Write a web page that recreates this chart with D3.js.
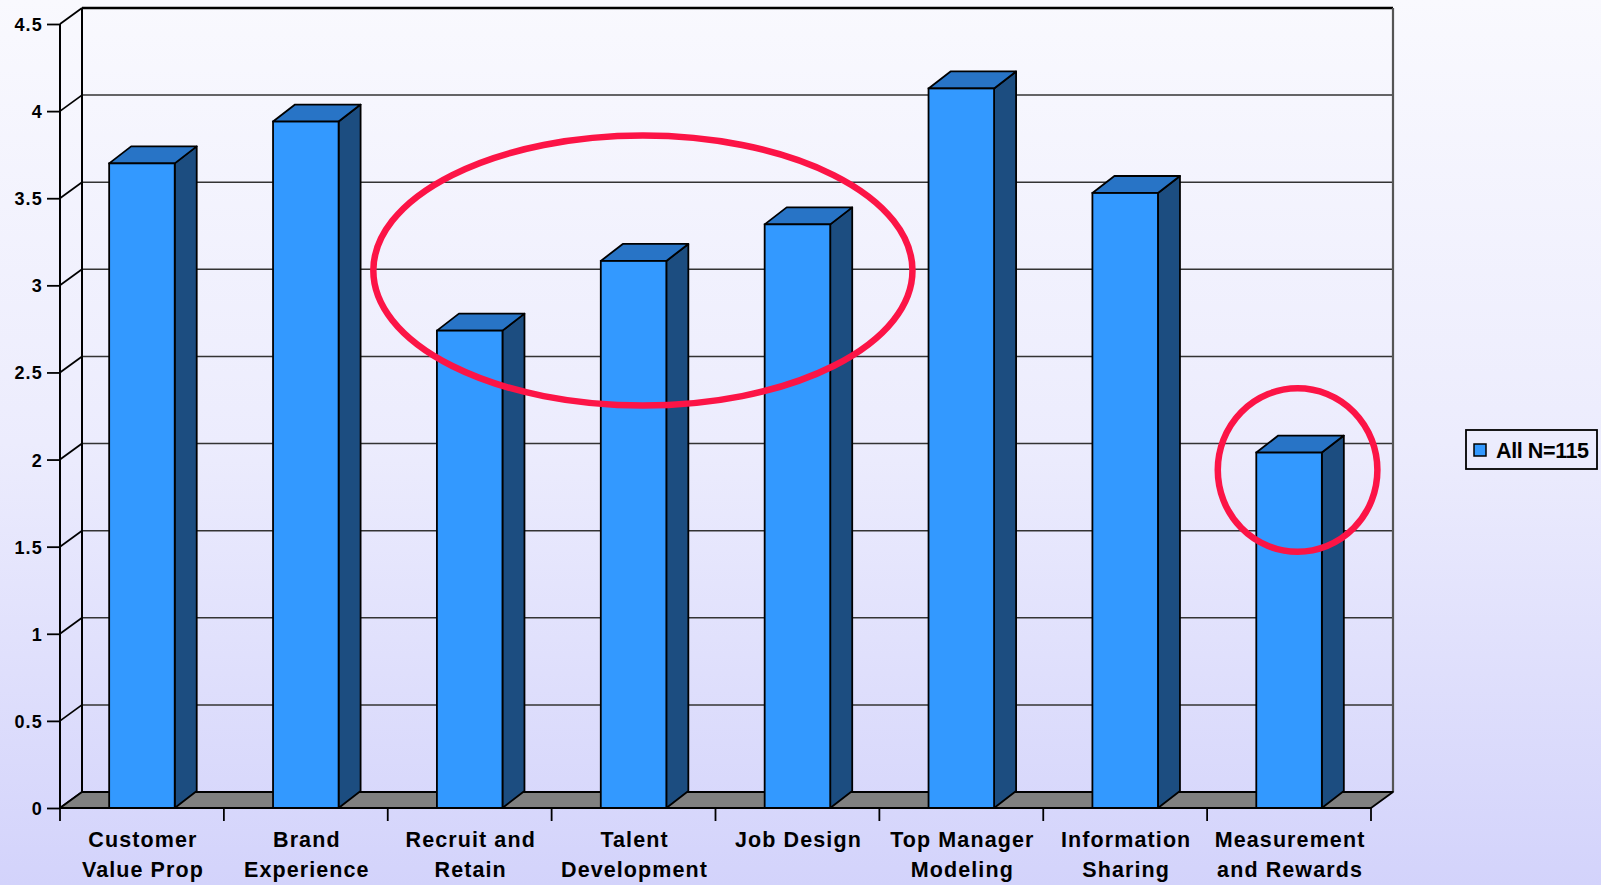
<!DOCTYPE html>
<html>
<head>
<meta charset="utf-8">
<script src="https://cdn.jsdelivr.net/npm/d3@7"></script>
<style>
  html, body { margin: 0; padding: 0; }
  svg { display: block; }
  text { font-family: Arial, "Liberation Sans", sans-serif; font-weight: bold; fill: #000; }
</style>
</head>
<body>
<svg id="chart" width="1601" height="885"></svg>
<script>
// ---- Data ----
const categories = ["Customer Value Prop", "Brand Experience", "Recruit and Retain", "Talent Development",
                    "Job Design", "Top Manager Modeling", "Information Sharing", "Measurement and Rewards"];
const categoryLines = [["Customer", "Value Prop"], ["Brand", "Experience"], ["Recruit and", "Retain"],
                       ["Talent", "Development"], ["Job Design"], ["Top Manager", "Modeling"],
                       ["Information", "Sharing"], ["Measurement", "and Rewards"]];
const values = [3.70, 3.94, 2.74, 3.14, 3.35, 4.13, 3.53, 2.04];
const yTicks = [0, 0.5, 1, 1.5, 2, 2.5, 3, 3.5, 4, 4.5];
const seriesName = "All N=115";
// annotation ellipses: centre category position (in band units), centre value, radii (bands, value units)
const highlightCx = [3.557, 7.552];
const highlightCy = [3.085, 1.94];
const highlightRx = [1.645, 0.487];
const highlightRy = [0.775, 0.469];

// ---- Layout ----
const W = 1601, H = 885;
const DX = 22, DY = 16;      // depth offset of the 3D walls
const BDX = 22, BDY = 17;    // depth offset of the bars
const svg = d3.select("#chart");

const defs = svg.append("defs");
const grad = defs.append("linearGradient").attr("id", "bg").attr("x1", 0).attr("y1", 0).attr("x2", 0).attr("y2", 1);
grad.append("stop").attr("offset", "0%").attr("stop-color", "#f9f9fe");
grad.append("stop").attr("offset", "50%").attr("stop-color", "#ececfd");
grad.append("stop").attr("offset", "100%").attr("stop-color", "#d3d3fb");
svg.append("rect").attr("width", W).attr("height", H).attr("fill", "url(#bg)");

const x = d3.scaleBand().domain(categories).range([60, 1371]).paddingInner(0.6).paddingOuter(0.3);
const y = d3.scaleLinear().domain([0, 4.5]).range([808, 24]);
const x0 = 60, x1 = 1371;
const step = x.step();
const boundary = i => x0 + i * (x1 - x0) / categories.length;

// back wall gridlines + left wall diagonals
const grid = svg.append("g");
yTicks.forEach(t => {
  const top = t === 4.5;
  grid.append("line")
    .attr("x1", x0 + DX).attr("x2", x1 + DX)
    .attr("y1", y(t) - DY).attr("y2", y(t) - DY)
    .attr("stroke", top ? "#000" : "#333").attr("stroke-width", top ? 2.5 : 1.5);
  grid.append("line")
    .attr("x1", x0).attr("y1", y(t))
    .attr("x2", x0 + DX).attr("y2", y(t) - DY)
    .attr("stroke", "#000").attr("stroke-width", 1.8);
});
// back wall verticals
grid.append("line").attr("x1", x0 + DX).attr("x2", x0 + DX).attr("y1", y(4.5) - DY).attr("y2", y(0) - DY)
  .attr("stroke", "#000").attr("stroke-width", 2);
grid.append("line").attr("x1", x1 + DX).attr("x2", x1 + DX).attr("y1", y(4.5) - DY).attr("y2", y(0) - DY)
  .attr("stroke", "#555").attr("stroke-width", 2.2);

// floor
svg.append("path")
  .attr("d", `M${x0},${y(0)} L${x1},${y(0)} L${x1 + DX},${y(0) - DY} L${x0 + DX},${y(0) - DY} Z`)
  .attr("fill", "#808080").attr("stroke", "#000").attr("stroke-width", 1.8).attr("stroke-linejoin", "round");

// bars
const bars = svg.append("g").selectAll("g").data(categories).join("g");
bars.each(function (c, i) {
  const g = d3.select(this);
  const bx = x(c), bw = x.bandwidth(), top = y(values[i]), base = y(0);
  g.append("path") // side
    .attr("d", `M${bx + bw},${base} L${bx + bw + BDX},${base - BDY} L${bx + bw + BDX},${top - BDY} L${bx + bw},${top} Z`)
    .attr("fill", "#1c4d80").attr("stroke", "#000").attr("stroke-width", 1.8).attr("stroke-linejoin", "round");
  g.append("path") // top
    .attr("d", `M${bx},${top} L${bx + BDX},${top - BDY} L${bx + bw + BDX},${top - BDY} L${bx + bw},${top} Z`)
    .attr("fill", "#2874c6").attr("stroke", "#000").attr("stroke-width", 1.8).attr("stroke-linejoin", "round");
  g.append("rect") // front
    .attr("x", bx).attr("y", top).attr("width", bw).attr("height", base - top)
    .attr("fill", "#3399ff").attr("stroke", "#000").attr("stroke-width", 1.8);
});

// front axes
svg.append("line").attr("x1", x0).attr("x2", x0).attr("y1", y(4.5)).attr("y2", y(0)).attr("stroke", "#000").attr("stroke-width", 2);
svg.append("line").attr("x1", x0).attr("x2", x1).attr("y1", y(0)).attr("y2", y(0)).attr("stroke", "#000").attr("stroke-width", 2);

// y axis ticks + labels
const yAxis = svg.append("g").attr("transform", `translate(${x0},0)`)
  .call(d3.axisLeft(y).tickValues(yTicks).tickSize(13).tickPadding(4).tickFormat(d => String(d)));
yAxis.select(".domain").remove();
yAxis.selectAll(".tick line").attr("stroke", "#000").attr("stroke-width", 1.8);
yAxis.selectAll(".tick text")
  .attr("font-family", "Arial, 'Liberation Sans', sans-serif").attr("font-weight", "bold")
  .attr("font-size", 18).style("letter-spacing", "1.2px").attr("fill", "#000").attr("dy", "0.36em");

// x axis ticks at category boundaries
d3.range(categories.length + 1).forEach(i => {
  svg.append("line").attr("x1", boundary(i)).attr("x2", boundary(i)).attr("y1", y(0)).attr("y2", y(0) + 13)
    .attr("stroke", "#000").attr("stroke-width", 1.8);
});

// x labels
categories.forEach((c, i) => {
  const t = svg.append("text").attr("text-anchor", "middle").attr("font-size", 21.5)
    .style("letter-spacing", "1.1px");
  categoryLines[i].forEach((ln, k) => {
    t.append("tspan").attr("x", x(c) + x.bandwidth() / 2 + 1).attr("y", 847 + k * 29.5).text(ln);
  });
});

// highlight ellipses
highlightCx.forEach((cx, i) => {
  svg.append("ellipse")
    .attr("cx", x0 + cx * step).attr("cy", y(highlightCy[i]))
    .attr("rx", highlightRx[i] * step).attr("ry", y(0) - y(highlightRy[i]))
    .attr("fill", "none").attr("stroke", "#fc1446").attr("stroke-width", 6.5);
});

// legend
const lg = svg.append("g");
lg.append("rect").attr("x", 1466).attr("y", 430).attr("width", 131).attr("height", 39)
  .attr("fill", "none").attr("stroke", "#000").attr("stroke-width", 1.8);
lg.append("rect").attr("x", 1474).attr("y", 444).attr("width", 12).attr("height", 12)
  .attr("fill", "#3399ff").attr("stroke", "#000").attr("stroke-width", 1.5);
lg.append("text").attr("x", 1496).attr("y", 458).attr("font-size", 21.5).style("letter-spacing", "-0.4px").text(seriesName);
</script>
</body>
</html>
